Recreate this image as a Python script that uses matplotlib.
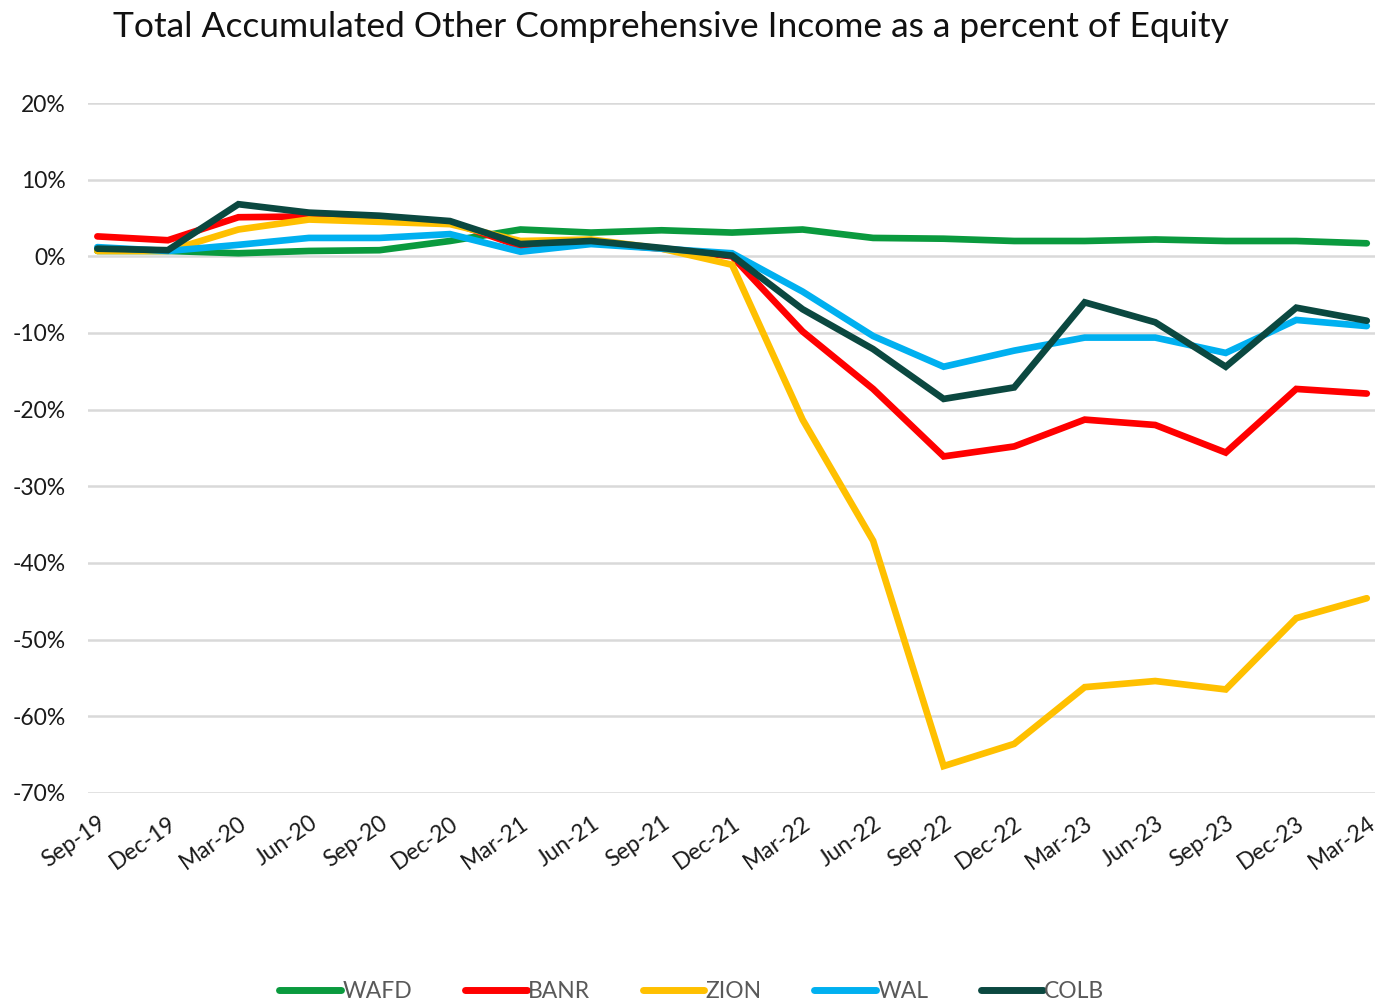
import matplotlib.pyplot as plt

# Quarter-end labels
quarters = ["Sep-19", "Dec-19", "Mar-20", "Jun-20", "Sep-20", "Dec-20", "Mar-21",
            "Jun-21", "Sep-21", "Dec-21", "Mar-22", "Jun-22", "Sep-22", "Dec-22",
            "Mar-23", "Jun-23", "Sep-23", "Dec-23", "Mar-24"]

# AOCI as % of equity
wafd = [0.7, 0.7, 0.4, 0.7, 0.8, 2.0, 3.5, 3.1, 3.4, 3.1, 3.5, 2.4, 2.3, 2.0, 2.0, 2.2, 2.0, 2.0, 1.7]
banr = [2.6, 2.1, 5.1, 5.2, 5.1, 4.5, 1.3, 1.8, 1.0, 0.0, -9.8, -17.3, -26.1, -24.8, -21.3, -22.0, -25.6, -17.3, -17.9]
zion = [0.7, 0.7, 3.5, 4.8, 4.5, 4.2, 2.0, 2.2, 1.0, -1.1, -21.3, -37.1, -66.5, -63.6, -56.2, -55.4, -56.5, -47.2, -44.6]
wal = [1.2, 0.7, 1.5, 2.4, 2.4, 2.9, 0.6, 1.6, 1.0, 0.4, -4.6, -10.4, -14.4, -12.3, -10.6, -10.6, -12.6, -8.3, -9.1]
colb = [1.0, 0.8, 6.8, 5.7, 5.3, 4.6, 1.6, 2.0, 1.1, 0.1, -6.9, -12.1, -18.6, -17.1, -6.0, -8.6, -14.4, -6.7, -8.4]

names = ["WAFD", "BANR", "ZION", "WAL", "COLB"]
series = [wafd, banr, zion, wal, colb]
colors = ["#0a9a3e", "#ff0000", "#ffc000", "#00b0f0", "#0b4840"]

plt.rcParams['font.family'] = ['Lato', 'DejaVu Sans']

fig = plt.figure(figsize=(13.78, 10.05), dpi=100)
ax = fig.add_axes([0.064, 0.211, 0.934, 0.6865])

x = range(len(quarters))
for name, vals, c in zip(names, series, colors):
    ax.plot(x, vals, color=c, lw=4.8, label=name, solid_joinstyle='miter',
            solid_capstyle='round')

ax.set_ylim(-70, 20)
ax.set_xlim(-0.13, len(quarters) - 1 + 0.12)
ax.set_yticks(range(-70, 21, 10))
ax.set_yticklabels([f"{v}%" for v in range(-70, 21, 10)])
ax.set_xticks(list(x))
ax.set_xticklabels(quarters, rotation=35, ha='right', rotation_mode='anchor')

ax.grid(axis='y', color='#d9d9d9', lw=1.8)
ax.set_axisbelow(True)
for s in ax.spines.values():
    s.set_visible(False)
ax.tick_params(axis='both', length=0, labelsize=16.5, colors='#1a1a1a')
ax.tick_params(axis='y', pad=16)
ax.tick_params(axis='x', pad=14)

fig.text(0.487, 0.973, "Total Accumulated Other Comprehensive Income as a percent of Equity",
         ha='center', va='center', fontsize=25.5, color='#111111')

leg = fig.legend(loc='lower center', bbox_to_anchor=(0.502, -0.018), ncol=5, frameon=False,
                 fontsize=16.5, handlelength=2.7, handletextpad=0.05, columnspacing=2.3)
for t in leg.get_texts():
    t.set_color('#595959')
for h in leg.get_lines():
    h.set_linewidth(5)

plt.savefig("out.png")
